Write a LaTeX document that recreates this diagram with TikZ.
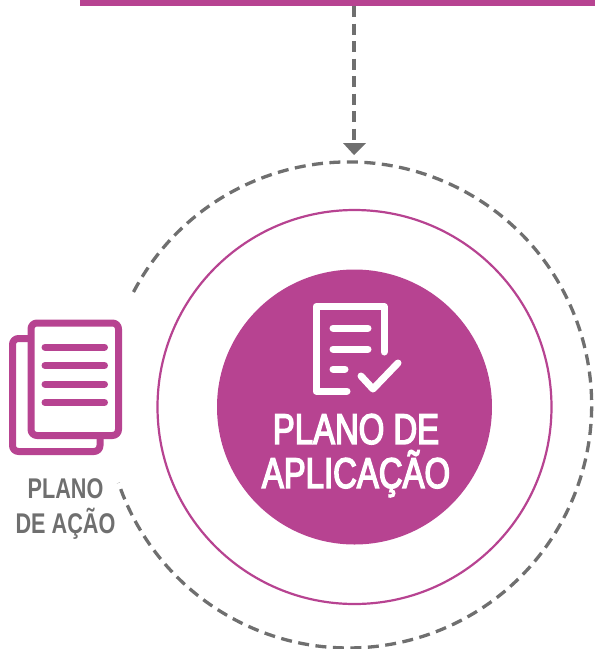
\documentclass[tikz,border=0pt]{standalone}
\usepackage{fontspec}
\setmainfont[FakeStretch=0.8]{Liberation Sans}
\newfontfamily\medfont[FakeStretch=0.765,FakeBold=3.2]{Liberation Sans}
\newfontfamily\labelfont[FakeStretch=0.76]{Liberation Sans Bold}
\usetikzlibrary{arrows.meta}
\definecolor{plum}{HTML}{B74391}
\definecolor{slate}{HTML}{6F6F6F}
\tikzset{
  dashline/.style={draw=slate,line width=3.3pt,dash pattern=on 11pt off 6.5pt},
  iconline/.style={line width=7pt,line cap=round,line join=round},
  bigtext/.style={text=white,font=\medfont\fontsize{43}{45}\selectfont,align=center},
  smalltext/.style={text=slate,font=\labelfont\fontsize{28.5}{35}\selectfont,align=center}
}
\begin{document}
\begin{tikzpicture}[x=1pt,y=-1pt]
\useasboundingbox (0,0) rectangle (595,649);
\fill[plum] (80,0) rectangle (595,6);
\coordinate (barend) at (354,6);
\coordinate (arrowtip) at (354,155);
\node[circle,draw=plum,line width=2.2pt,minimum size=394pt,inner sep=0pt] (ring) at (354.5,407) {};
\node[circle,fill=plum,minimum size=275pt,inner sep=0pt] (core) at (354.5,407) {};
% outer dashed ring
\coordinate (ringstart) at (133.5,292);
\draw[dashline] (ringstart) arc[start angle=152.3,end angle=-161.3,radius=243pt];
% arrow
\draw[dashline] (barend) -- (354,145);
\fill[slate] (343,143) -- (366,143) -- (arrowtip) -- cycle;
% checklist icon
\draw[iconline,white] (384,352) -- (384,306.5) -- (316,306.5) -- (316,391) -- (347,391);
\draw[iconline,white] (333,328) -- (368,328);
\draw[iconline,white] (333,349) -- (368,349);
\draw[iconline,white] (333,369) -- (345,369);
\draw[iconline,white] (361,376) -- (373,389) -- (398,363);
\node[bigtext] (title) at (356,455.5) {PLANO DE\\[-1pt]APLICAÇÃO};
% documents icon
\draw[iconline,plum,rounded corners=6pt,line cap=butt] (31,338.5) -- (12.5,338.5) -- (12.5,451.5) -- (100,451.5) -- (100,436);
\draw[iconline,plum,rounded corners=6pt] (31,323) rectangle (118.5,435.5);
\foreach \yy in {347,365.5,384,402.5}{\draw[iconline,plum] (45,\yy) -- (104.5,\yy);}
\node[smalltext] (label) at (65.5,508.5) {PLANO\\DE AÇÃO};
\end{tikzpicture}
\end{document}
